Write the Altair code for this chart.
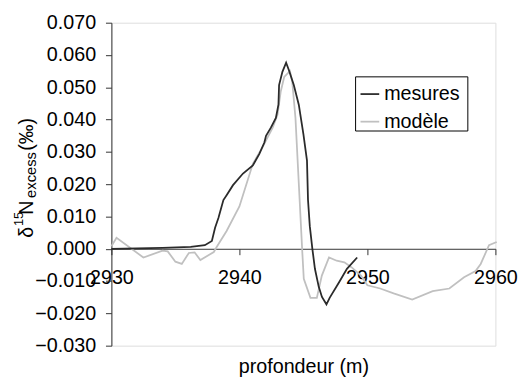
import altair as alt
import pandas as pd

# --- data ---
mes_depth = [2930, 2932, 2934, 2936.2, 2937.3, 2937.85, 2938.1, 2938.36, 2938.75, 2939.0,
             2939.5, 2940.28, 2941.05, 2941.56, 2941.95, 2942.08, 2942.46, 2942.85, 2943.05,
             2943.1, 2943.36, 2943.65, 2943.87, 2944.25, 2944.64, 2945.0, 2945.28, 2945.36,
             2945.5, 2945.7, 2945.9, 2946.2, 2946.45, 2946.8, 2947.05, 2947.8, 2948.4, 2949.2]
mes_value = [0.0, 0.0001, 0.0003, 0.0006, 0.0011, 0.0024, 0.0065, 0.0095, 0.0151, 0.0166,
             0.0197, 0.0233, 0.0258, 0.0294, 0.0329, 0.0350, 0.0375, 0.0405, 0.0446,
             0.0507, 0.0548, 0.0576, 0.0553, 0.0507, 0.0446, 0.0355, 0.0273, 0.0151,
             0.0070, 0.0, -0.0062, -0.0118, -0.0149, -0.0172, -0.0152, -0.0103, -0.0062, -0.0027]

mod_depth = [2930, 2930.4, 2932.5, 2934.0, 2934.4, 2935.0, 2935.5, 2936.05, 2936.5, 2936.95,
             2938.0, 2938.2, 2939.0, 2940.0, 2941.05, 2941.8, 2942.6, 2942.98, 2943.23, 2943.5,
             2943.95, 2944.13, 2944.38, 2944.64, 2944.9, 2945.03, 2945.55, 2946.05, 2946.44,
             2947.0, 2947.6, 2948.2, 2948.75, 2949.5, 2950.0, 2951.0, 2952.05, 2953.5, 2955.1,
             2956.4, 2957.55, 2958.45, 2958.85, 2959.5, 2960.1]
mod_value = [0.0008, 0.0034, -0.0027, -0.0006, -0.0008, -0.0040, -0.0047, -0.0013, -0.0011, -0.0035,
             -0.0010, 0.0004, 0.0055, 0.0131, 0.0263, 0.0314, 0.0375, 0.0416, 0.0487, 0.0532,
             0.0550, 0.0517, 0.0405, 0.0202, 0.0, -0.0093, -0.0152, -0.0152, -0.0083,
             -0.0027, -0.0037, -0.0042, -0.0057, -0.0083, -0.0113, -0.0123, -0.0138, -0.0157, -0.0131,
             -0.0123, -0.0088, -0.0069, -0.0047, 0.0011, 0.0021]

series = ["mesures", "modèle"]
series_colors = ["#2b2b2b", "#c0c0c0"]
y_ticks = [-0.03, -0.02, -0.01, 0.0, 0.01, 0.02, 0.03, 0.04, 0.05, 0.06, 0.07]
x_ticks = [2930, 2940, 2950, 2960]

FONT = "Liberation Sans"
W, H = 390, 328
Y0_FROM_BOTTOM = H * 0.03 / 0.10

df_mes = pd.DataFrame({"depth": mes_depth, "value": mes_value, "serie": series[0]})
df_mod = pd.DataFrame({"depth": mod_depth, "value": mod_value, "serie": series[1]})

xscale = alt.Scale(domain=[2930, 2960], nice=False, zero=False)
yscale = alt.Scale(domain=[-0.03, 0.07], nice=False)
cscale = alt.Scale(domain=series, range=series_colors)

xaxis = alt.Axis(values=x_ticks, format="d", offset=-Y0_FROM_BOTTOM, grid=False,
                 tickSize=6, labelPadding=13, labelFlush=False, labelFontSize=20,
                 labelFont=FONT, labelColor="black", domainColor="#333333",
                 tickColor="#333333", title="profondeur (m)", titleFont=FONT,
                 titleFontSize=20, titleFontWeight="normal", titleColor="black",
                 titleY=126, titleBaseline="alphabetic")
yaxis = alt.Axis(values=y_ticks, format=".3f", grid=False, tickSize=6, labelPadding=10,
                 labelFlush=False, labelFontSize=20, labelFont=FONT, labelColor="black",
                 domainColor="#333333", tickColor="#333333", title=None)

base_enc = dict(
    x=alt.X("depth:Q", scale=xscale, axis=xaxis),
    y=alt.Y("value:Q", scale=yscale, axis=yaxis),
    color=alt.Color("serie:N", scale=cscale, legend=None),
)

line_mod = alt.Chart(df_mod).mark_line(strokeWidth=1.8).encode(**base_enc)
line_mes = alt.Chart(df_mes).mark_line(strokeWidth=1.8).encode(**base_enc)

# y-axis title with superscript / subscript pieces
ytitle_parts = pd.DataFrame({
    "txt": ["δ", "15", "N", "excess", "(‰)"],
    "px": [-80, -89.5, -80, -76.5, -80],
    "py": [218.5, 206.5, 195, 178, 130],
    "fs": [20, 13, 20, 15, 20],
})
ytitle = alt.Chart(ytitle_parts).mark_text(angle=270, align="left", baseline="alphabetic",
                                          font=FONT, color="black").encode(
    x=alt.X("px:Q", scale=None), y=alt.Y("py:Q", scale=None),
    text="txt:N", size=alt.Size("fs:Q", scale=None, legend=None))

# legend box
leg_box = alt.Chart(pd.DataFrame({"a": [0]})).mark_rect(fill="white", stroke="black",
                                                        strokeWidth=1).encode(
    x=alt.value(248), x2=alt.value(362), y=alt.value(55), y2=alt.value(110))
leg_items = pd.DataFrame({"serie": series, "yy": [72.5, 100.5]})
leg_lines = alt.Chart(leg_items).mark_rule(strokeWidth=1.8).encode(
    x=alt.value(253), x2=alt.value(272), y=alt.Y("yy:Q", scale=None),
    color=alt.Color("serie:N", scale=cscale, legend=None))
leg_text = alt.Chart(leg_items).mark_text(align="left", baseline="middle", font=FONT,
                                          fontSize=20, color="black").encode(
    x=alt.value(277), y=alt.Y("yy:Q", scale=None), text="serie:N")

chart = alt.layer(line_mod, line_mes, ytitle, leg_box, leg_lines, leg_text).properties(
    width=W, height=H,
    autosize=alt.AutoSizeParams(type="none"),
    padding={"left": 105, "top": 12, "right": 27, "bottom": 36},
).configure_view(stroke=None).configure(background="white")

chart.save("out.html", embed_options={"renderer": "svg", "actions": False})
